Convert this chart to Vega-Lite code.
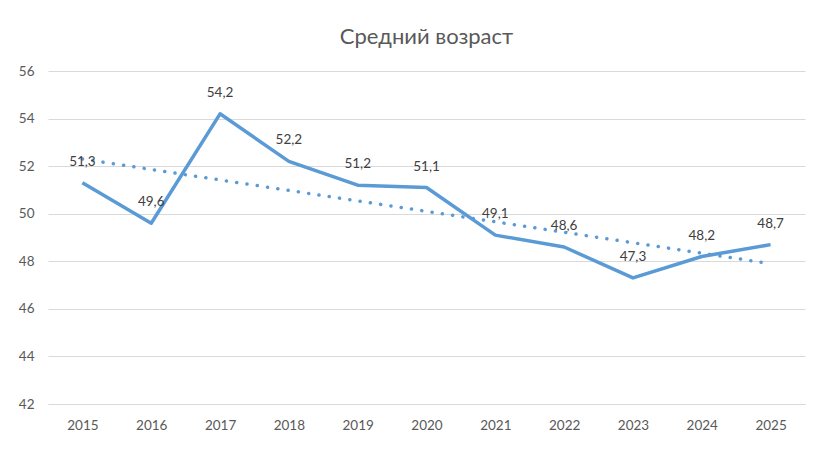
{
  "$schema": "https://vega.github.io/schema/vega-lite/v6.json",
  "autosize": "none",
  "padding": {"left": 48, "top": 71, "right": 24, "bottom": 50},
  "width": 757,
  "height": 333,
  "background": "white",
  "title": {
    "text": "Средний возраст",
    "anchor": "middle",
    "frame": "group",
    "fontSize": 22,
    "fontWeight": "normal",
    "font": "Lato",
    "color": "#595959",
    "baseline": "alphabetic",
    "offset": -2
  },
  "datasets": {
    "age": [
      {"year": "2015", "age": 51.3},
      {"year": "2016", "age": 49.6},
      {"year": "2017", "age": 54.2},
      {"year": "2018", "age": 52.2},
      {"year": "2019", "age": 51.2},
      {"year": "2020", "age": 51.1},
      {"year": "2021", "age": 49.1},
      {"year": "2022", "age": 48.6},
      {"year": "2023", "age": 47.3},
      {"year": "2024", "age": 48.2},
      {"year": "2025", "age": 48.7}
    ],
    "trend": [
      {"year": "2015", "age": 52.3},
      {"year": "2025", "age": 47.9}
    ]
  },
  "encoding": {
    "x": {
      "field": "year",
      "type": "ordinal",
      "scale": {"domain": ["2015","2016","2017","2018","2019","2020","2021","2022","2023","2024","2025"], "paddingInner": 0, "paddingOuter": 0.5},
      "axis": {"title": null, "labelAngle": 0, "ticks": false, "domain": true, "domainColor": "#d9d9d9", "labelPadding": 14}
    },
    "y": {
      "field": "age",
      "type": "quantitative",
      "scale": {"domain": [42, 56], "nice": false, "zero": false},
      "axis": {"title": null, "values": [42, 44, 46, 48, 50, 52, 54, 56], "ticks": false, "domain": false, "labelPadding": 14, "gridColor": "#d9d9d9"}
    }
  },
  "layer": [
    {
      "data": {"name": "age"},
      "mark": {"type": "line", "color": "#5b9bd5", "strokeWidth": 3.5, "strokeJoin": "round"}
    },
    {
      "data": {"name": "trend"},
      "mark": {"type": "line", "color": "#5b9bd5", "strokeWidth": 3.5, "strokeDash": [0.1, 10.3], "strokeCap": "round"}
    },
    {
      "data": {"name": "age"},
      "mark": {"type": "text", "dy": -21, "font": "Lato", "fontSize": 13.5, "color": "#404040"},
      "encoding": {"text": {"field": "age", "type": "quantitative", "format": ".1f"}}
    }
  ],
  "config": {
    "locale": {"number": {"decimal": ",", "thousands": " ", "grouping": [3], "currency": ["", " ₽"]}},
    "view": {"stroke": null},
    "axis": {"labelFont": "Lato", "labelFontSize": 13.5, "labelColor": "#595959", "grid": true, "gridColor": "#d9d9d9"},
    "axisX": {"grid": false}
  }
}
